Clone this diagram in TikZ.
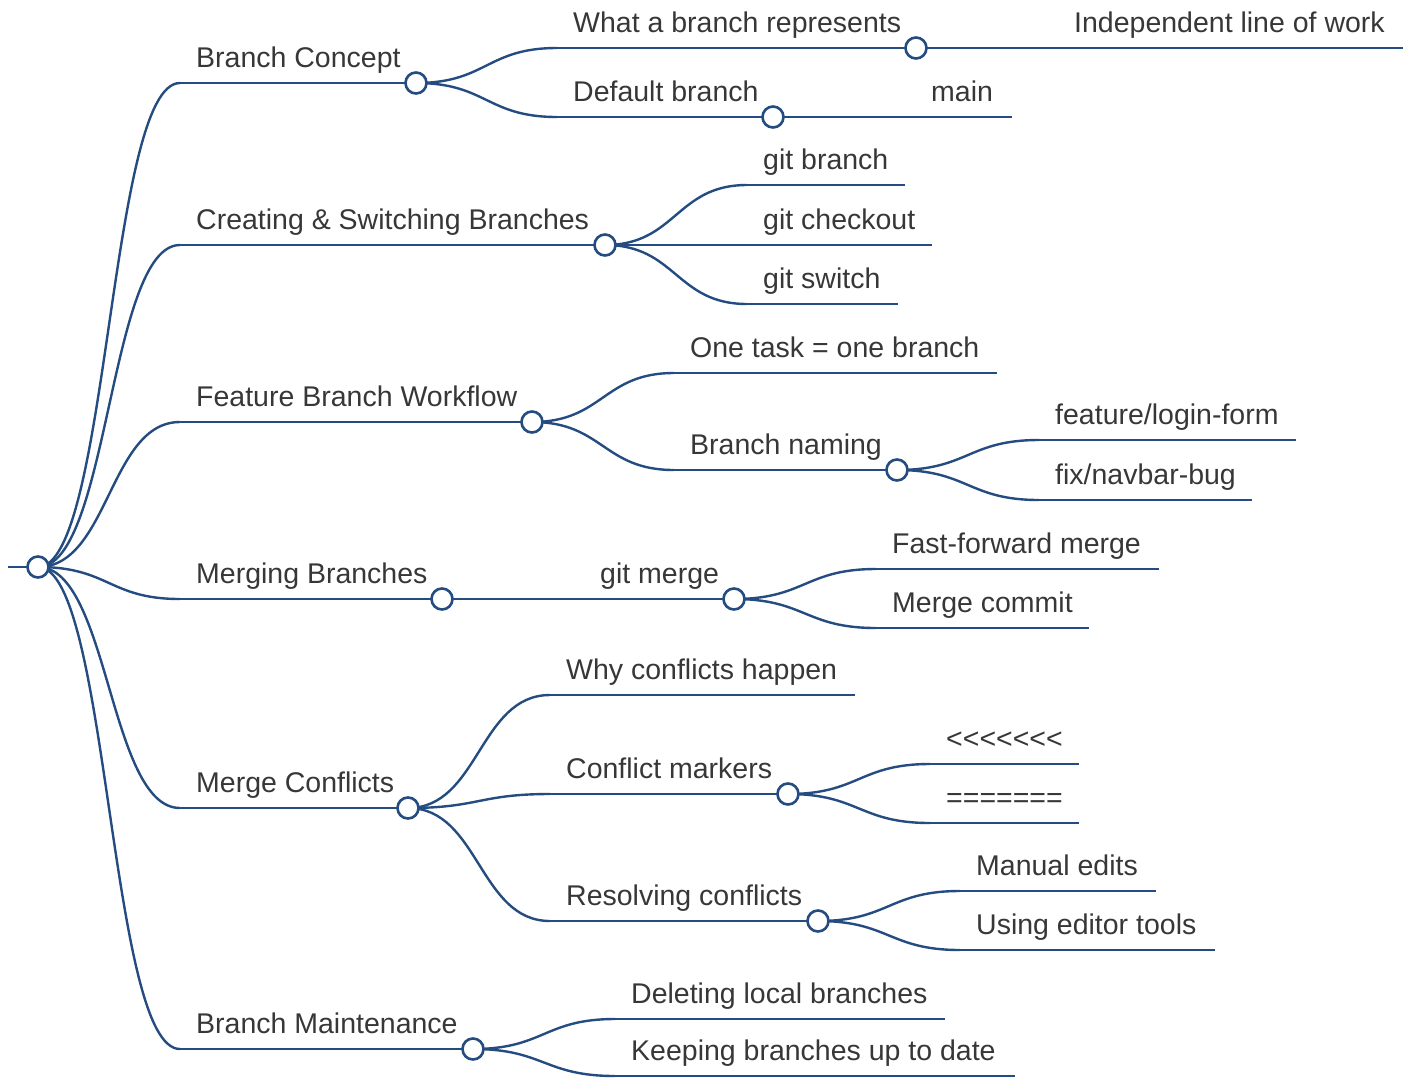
\documentclass[tikz,border=0pt]{standalone}
\usepackage{fontspec}
\setmainfont{Liberation Sans}
\usetikzlibrary{calc}

\definecolor{mmblue}{RGB}{36,76,128}
\definecolor{mmtext}{RGB}{55,55,55}

\tikzset{
  underline/.style={draw=mmblue, line width=2.5pt},
  link/.style={draw=mmblue, line width=2.4pt},
  dot/.style={circle, draw=mmblue, fill=white, line width=2.6pt,
              minimum size=21pt, inner sep=0pt},
  label/.style={anchor=base west, inner sep=0pt, text=mmtext,
                font=\fontsize{28.5}{34}\selectfont},
}

% \mmnode{name}{x start}{x end}{y}{text}: a topic with its underline
\newcommand\mmnode[5]{%
  \coordinate (#1-s) at (#2,#4);
  \coordinate (#1-e) at (#3,#4);
  \draw[underline] (#1-s) -- (#1-e);
  \node[label] (#1) at ($(#1-s)+(16,-16)$) {#5};
}
% \mmlink{parent}{child}: horizontal S-curve from parent end to child start
\newcommand\mmlink[2]{%
  \path (#1-e) -- (#2-s) coordinate[midway] (#1-#2-m);
  \draw[link] (#1-e) .. controls (#1-#2-m |- #1-e) and (#1-#2-m |- #2-s) .. (#2-s);
}
% \mmdot{name}: open circle closing a topic that has children
\newcommand\mmdot[1]{\node[dot] (#1-dot) at (#1-e) {};}

\begin{document}
\begin{tikzpicture}[x=1pt, y=-1pt]
\useasboundingbox (0,0) rectangle (1413,1077);

% root
\coordinate (root-s) at (8,567);
\coordinate (root-e) at (38,567);
\draw[underline] (root-s) -- (root-e);

% first level
\mmnode{concept}{180}{416}{83}{Branch Concept}
\mmnode{create}{180}{605}{245}{Creating \& Switching Branches}
\mmnode{feature}{180}{532}{422}{Feature Branch Workflow}
\mmnode{merging}{180}{442}{599}{Merging Branches}
\mmnode{conflicts}{180}{408}{808}{Merge Conflicts}
\mmnode{maint}{180}{473}{1049}{Branch Maintenance}

% Branch Concept
\mmnode{what}{557}{916}{48}{What a branch represents}
\mmnode{indep}{1058}{1403}{48}{Independent line of work}
\mmnode{default}{557}{773}{117}{Default branch}
\mmnode{main}{915}{1012}{117}{main}

% Creating & Switching
\mmnode{gbranch}{747}{905}{185}{git branch}
\mmnode{gcheckout}{747}{932}{245}{git checkout}
\mmnode{gswitch}{747}{898}{304}{git switch}

% Feature Branch Workflow
\mmnode{onetask}{674}{997}{373}{One task = one branch}
\mmnode{naming}{674}{897}{470}{Branch naming}
\mmnode{login}{1039}{1296}{440}{feature/login-form}
\mmnode{navbar}{1039}{1252}{500}{fix/navbar-bug}

% Merging Branches
\mmnode{gmerge}{584}{734}{599}{git merge}
\mmnode{ff}{876}{1159}{569}{Fast-forward merge}
\mmnode{mcommit}{876}{1089}{628}{Merge commit}

% Merge Conflicts
\mmnode{why}{550}{855}{695}{Why conflicts happen}
\mmnode{markers}{550}{788}{794}{Conflict markers}
\mmnode{lt}{930}{1079}{764}{<{}<{}<{}<{}<{}<{}<}
\mmnode{eq}{930}{1079}{823}{=======}
\mmnode{resolve}{550}{818}{921}{Resolving conflicts}
\mmnode{manual}{960}{1156}{891}{Manual edits}
\mmnode{tools}{960}{1215}{950}{Using editor tools}

% Branch Maintenance
\mmnode{delete}{615}{945}{1019}{Deleting local branches}
\mmnode{keep}{615}{1015}{1076}{Keeping branches up to date}

% links
\foreach \c in {concept,create,feature,merging,conflicts,maint}{\mmlink{root}{\c}}
\mmlink{concept}{what}
\mmlink{concept}{default}
\mmlink{what}{indep}
\mmlink{default}{main}
\mmlink{create}{gbranch}
\mmlink{create}{gcheckout}
\mmlink{create}{gswitch}
\mmlink{feature}{onetask}
\mmlink{feature}{naming}
\mmlink{naming}{login}
\mmlink{naming}{navbar}
\mmlink{merging}{gmerge}
\mmlink{gmerge}{ff}
\mmlink{gmerge}{mcommit}
\mmlink{conflicts}{why}
\mmlink{conflicts}{markers}
\mmlink{conflicts}{resolve}
\mmlink{markers}{lt}
\mmlink{markers}{eq}
\mmlink{resolve}{manual}
\mmlink{resolve}{tools}
\mmlink{maint}{delete}
\mmlink{maint}{keep}

% circles on top of the links
\foreach \n in {root,concept,create,feature,merging,conflicts,maint,
                what,default,naming,gmerge,markers,resolve}{\mmdot{\n}}
\end{tikzpicture}
\end{document}
